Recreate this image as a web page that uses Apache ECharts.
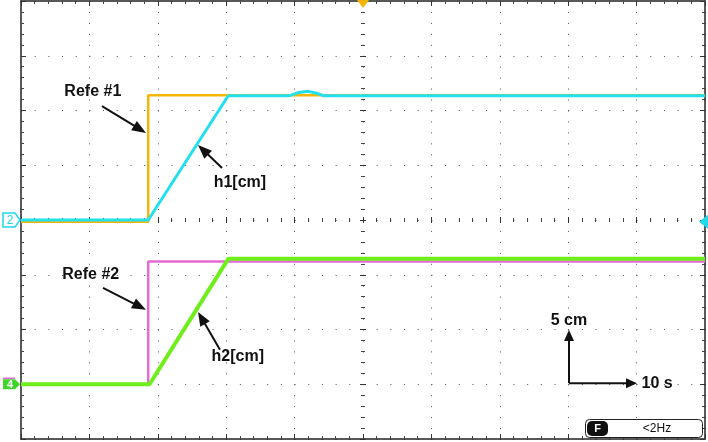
<!DOCTYPE html>
<html><head><meta charset="utf-8">
<script src="https://cdn.jsdelivr.net/npm/echarts@6/dist/echarts.min.js"></script>
<style>html,body{margin:0;padding:0;background:#fff}#c{width:708px;height:442px}</style>
</head><body><div id="c"></div>
<script>
// x: time in seconds (10 s / div), y: screen level in divisions (5 cm / div, channel offsets included)
const ref1T = [0, 18.6, 18.6, 100];
const ref1Y = [-0.03, -0.03, 2.28, 2.28];
const h1T = [0, 18.6, 30.3, 39.3, 40.6, 42.0, 43.4, 44.2, 100];
const h1Y = [0.0, 0.0, 2.27, 2.27, 2.33, 2.35, 2.31, 2.27, 2.27];
const ref2T = [0, 18.6, 18.6, 100];
const ref2Y = [-3.01, -3.01, -0.76, -0.76];
const h2T = [0, 18.8, 30.3, 100];
const h2Y = [-3.0, -3.0, -0.71, -0.71];

// annotation texts and arrows, in data coordinates
const noteText = ['Refe #1', 'h1[cm]', 'Refe #2', 'h2[cm]', '5 cm', '10 s'];
const noteT = [10.5, 32.0, 10.2, 31.7, 80.1, 93.0];
const noteY = [2.34, 0.69, -1.0, -2.5, -1.83, -2.98];
const arrowFrom = [[11.84, 2.08], [29.39, 0.95], [11.99, -1.24], [29.09, -2.37], [80.12, -2.98], [80.12, -2.98]];
const arrowTo = [[18.27, 1.59], [25.88, 1.37], [18.27, -1.64], [25.88, -1.68], [80.12, -2.01], [90.06, -2.98]];
const arrowHead = [[14, 11], [14, 11], [14, 11], [14, 11], [11, 10], [11, 10]];

const zip = (a, b) => a.map((v, i) => [v, b[i]]);

function xAx(pos, offset, inside, len, mlen, lineShow, split) {
  return {type: 'value', min: 0, max: 100, interval: 10, position: pos, offset: offset,
    axisLine: {show: lineShow, onZero: false, lineStyle: {color: '#222', width: 1.5}},
    axisTick: {show: true, inside: inside, length: len, lineStyle: {color: '#333'}},
    minorTick: {show: true, splitNumber: 5, length: mlen, lineStyle: {color: '#444'}},
    axisLabel: {show: false},
    splitLine: {show: split, lineStyle: {color: '#555', width: 1, type: [1, 9.95]}}};
}
function yAx(pos, offset, inside, len, mlen, lineShow, split) {
  return {type: 'value', min: -4, max: 4, interval: 1, position: pos, offset: offset,
    axisLine: {show: lineShow, onZero: false, lineStyle: {color: '#222', width: 1.5}},
    axisTick: {show: true, inside: inside, length: len, lineStyle: {color: '#333'}},
    minorTick: {show: true, splitNumber: 5, length: mlen, lineStyle: {color: '#444'}},
    axisLabel: {show: false},
    splitLine: {show: split, lineStyle: {color: '#555', width: 1, type: [1, 12.68]}}};
}

const chart = echarts.init(document.getElementById('c'));
const lineSeries = (name, data, color, width, z) => ({
  name: name, type: 'line', data: data, xAxisIndex: 0, yAxisIndex: 0, showSymbol: false,
  symbol: 'none', animation: false, z: z,
  lineStyle: {color: color, width: width}
});

chart.setOption({
  animation: false,
  backgroundColor: '#fff',
  grid: {left: 21, right: 3, top: 1, bottom: 3},
  xAxis: [
    xAx('bottom', 0, true, 5, 3, true, true),
    xAx('top', 0, true, 5, 3, true, false),
    xAx('bottom', -219, true, 3, 2, false, false),
    xAx('bottom', -219, false, 3, 2, false, false)
  ],
  yAxis: [
    yAx('left', 0, true, 5, 3, true, true),
    yAx('right', 0, true, 5, 3, true, false),
    yAx('left', -342, true, 3, 2, false, false),
    yAx('left', -342, false, 3, 2, false, false)
  ],
  series: [
    lineSeries('Refe #1', zip(ref1T, ref1Y), '#F2B705', 2.5, 2),
    lineSeries('h1[cm]', zip(h1T, h1Y), '#22E0EE', 3, 3),
    lineSeries('Refe #2', zip(ref2T, ref2Y), '#E46BD2', 2.5, 2),
    lineSeries('h2[cm]', zip(h2T, h2Y), '#6FEE1C', 4, 3)
  ]
});

const P = (t, v) => chart.convertToPixel({xAxisIndex: 0, yAxisIndex: 0}, [t, v]);
const g = [];
const font = 'bold 16px "Liberation Sans", Arial, sans-serif';
noteText.forEach((s, i) => {
  const p = P(noteT[i], noteY[i]);
  g.push({type: 'text', x: p[0], y: p[1], z: 20, style: {text: s, font: font, fill: '#111', align: 'center', verticalAlign: 'middle'}});
});
arrowFrom.forEach((f, i) => {
  const a = P(f[0], f[1]), b = P(arrowTo[i][0], arrowTo[i][1]);
  const dx = b[0] - a[0], dy = b[1] - a[1], L = Math.hypot(dx, dy);
  const ux = dx / L, uy = dy / L, hl = arrowHead[i][0], hw = arrowHead[i][1] / 2;
  const bx = b[0] - ux * hl, by = b[1] - uy * hl;
  g.push({type: 'line', z: 20, shape: {x1: a[0], y1: a[1], x2: bx + ux * 2, y2: by + uy * 2}, style: {stroke: '#111', lineWidth: 2}});
  g.push({type: 'polygon', z: 20, shape: {points: [[b[0], b[1]], [bx - uy * hw, by + ux * hw], [bx + uy * hw, by - ux * hw]]}, style: {fill: '#111'}});
});
// channel markers
const c2 = P(0, 0)[1], c4 = P(0, -3.0)[1], trig = P(0, -0.03)[1], tx = P(50, 0)[0];
g.push({type: 'polygon', z: 20, shape: {points: [[3, c2 - 7], [15, c2 - 7], [20, c2], [15, c2 + 7], [3, c2 + 7]]}, style: {fill: '#fff', stroke: '#22D8E8', lineWidth: 1.5}});
g.push({type: 'text', x: 10, y: c2 + 0.5, z: 21, style: {text: '2', font: '12px "Liberation Sans", Arial', fill: '#22D8E8', align: 'center', verticalAlign: 'middle'}});
g.push({type: 'line', z: 20, shape: {x1: 3, y1: c4 - 6, x2: 15, y2: c4 - 6}, style: {stroke: '#E46BD2', lineWidth: 1.5}});
g.push({type: 'polygon', z: 20, shape: {points: [[3, c4 - 5], [15, c4 - 5], [20, c4], [15, c4 + 5], [3, c4 + 5]]}, style: {fill: '#3FD52A'}});
g.push({type: 'text', x: 10, y: c4 + 0.5, z: 21, style: {text: '4', font: 'bold 11px "Liberation Sans", Arial', fill: '#fff', align: 'center', verticalAlign: 'middle'}});
g.push({type: 'polygon', z: 20, shape: {points: [[tx - 6, 0], [tx + 6, 0], [tx, 8]]}, style: {fill: '#F2B705'}});
g.push({type: 'polygon', z: 20, shape: {points: [[708, trig - 7], [699, trig], [708, trig + 7]]}, style: {fill: '#22D8E8'}});
// status box
g.push({type: 'rect', z: 20, shape: {x: 585.5, y: 419.5, width: 117, height: 18, r: 4}, style: {fill: '#fff', stroke: '#222', lineWidth: 1}});
g.push({type: 'rect', z: 21, shape: {x: 587, y: 421, width: 21, height: 15, r: 5}, style: {fill: '#111'}});
g.push({type: 'text', x: 597.5, y: 429, z: 22, style: {text: 'F', font: 'bold 11px "Liberation Sans", Arial', fill: '#fff', align: 'center', verticalAlign: 'middle'}});
g.push({type: 'text', x: 657, y: 429, z: 22, style: {text: '<2Hz', font: '12px "Liberation Sans", Arial', fill: '#111', align: 'center', verticalAlign: 'middle'}});
chart.setOption({graphic: g});
</script></body></html>
